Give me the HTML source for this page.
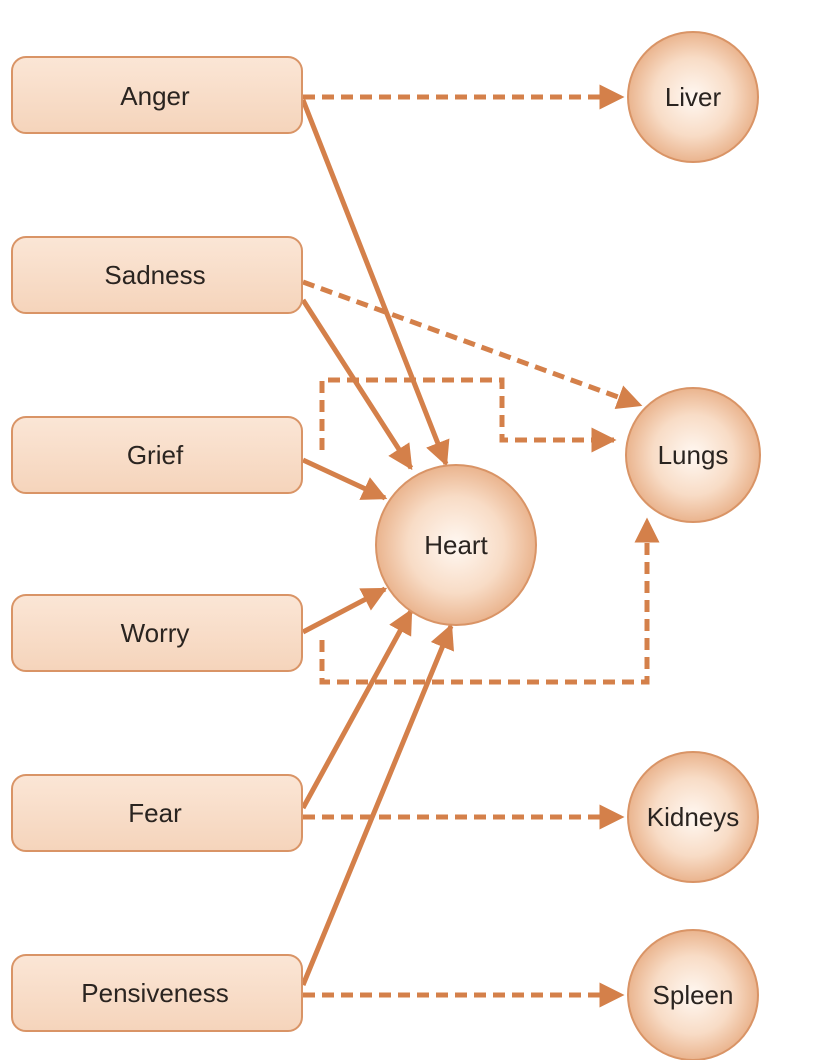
<!DOCTYPE html>
<html><head><meta charset="utf-8"><style>
body{margin:0;background:#fff;}
svg{display:block;}
text{font-family:"Liberation Sans",sans-serif;font-size:26px;fill:#2a2420;text-anchor:middle;}
</style></head><body>
<svg width="816" height="1060" viewBox="0 0 816 1060">
<defs>
<radialGradient id="cg" cx="50%" cy="50%" r="50%">
<stop offset="0%" stop-color="#fff8f2"/><stop offset="60%" stop-color="#f8dcc6"/><stop offset="100%" stop-color="#eab48e"/>
</radialGradient>
<linearGradient id="bg" x1="0" y1="0" x2="0" y2="1">
<stop offset="0%" stop-color="#fbe6d6"/><stop offset="100%" stop-color="#f5d4bb"/>
</linearGradient>
<marker id="ah" markerWidth="5" markerHeight="5" refX="4.5" refY="2.5" orient="auto" markerUnits="strokeWidth">
<path d="M0,0 L5,2.5 L0,5 Z" fill="#d4804a"/></marker>
</defs>
<g stroke="#d4804a" stroke-width="5" fill="none">
<g stroke-dasharray="12,7">
<line x1="303" y1="97" x2="622" y2="97" marker-end="url(#ah)"/>
<line x1="303" y1="282" x2="640" y2="405" marker-end="url(#ah)"/>
<line x1="303" y1="817" x2="622" y2="817" marker-end="url(#ah)"/>
<line x1="303" y1="995" x2="622" y2="995" marker-end="url(#ah)"/>
<polyline points="322,450 322,380 502,380 502,440 614,440" marker-end="url(#ah)"/>
<polyline points="322,640 322,682 647,682 647,520" marker-end="url(#ah)"/>
</g>
<line x1="303" y1="100" x2="446" y2="464" marker-end="url(#ah)"/>
<line x1="303" y1="300" x2="411" y2="468" marker-end="url(#ah)"/>
<line x1="303" y1="460" x2="385" y2="498" marker-end="url(#ah)"/>
<line x1="303" y1="632" x2="385" y2="589" marker-end="url(#ah)"/>
<line x1="303" y1="808" x2="411" y2="611" marker-end="url(#ah)"/>
<line x1="303" y1="985" x2="451" y2="626" marker-end="url(#ah)"/>
</g>
<g stroke="#d99466" stroke-width="2" fill="url(#bg)">
<rect x="12" y="57" width="290" height="76" rx="14"/>
<rect x="12" y="237" width="290" height="76" rx="14"/>
<rect x="12" y="417" width="290" height="76" rx="14"/>
<rect x="12" y="595" width="290" height="76" rx="14"/>
<rect x="12" y="775" width="290" height="76" rx="14"/>
<rect x="12" y="955" width="290" height="76" rx="14"/>
</g>
<g stroke="#d99466" stroke-width="2" fill="url(#cg)">
<circle cx="693" cy="97" r="65"/>
<circle cx="693" cy="455" r="67"/>
<circle cx="693" cy="817" r="65"/>
<circle cx="693" cy="995" r="65"/>
<circle cx="456" cy="545" r="80"/>
</g>
<text x="155" y="105">Anger</text>
<text x="155" y="284">Sadness</text>
<text x="155" y="464">Grief</text>
<text x="155" y="642">Worry</text>
<text x="155" y="822">Fear</text>
<text x="155" y="1002">Pensiveness</text>
<text x="693" y="106">Liver</text>
<text x="693" y="464">Lungs</text>
<text x="693" y="826">Kidneys</text>
<text x="693" y="1004">Spleen</text>
<text x="456" y="554">Heart</text>
</svg>
</body></html>
